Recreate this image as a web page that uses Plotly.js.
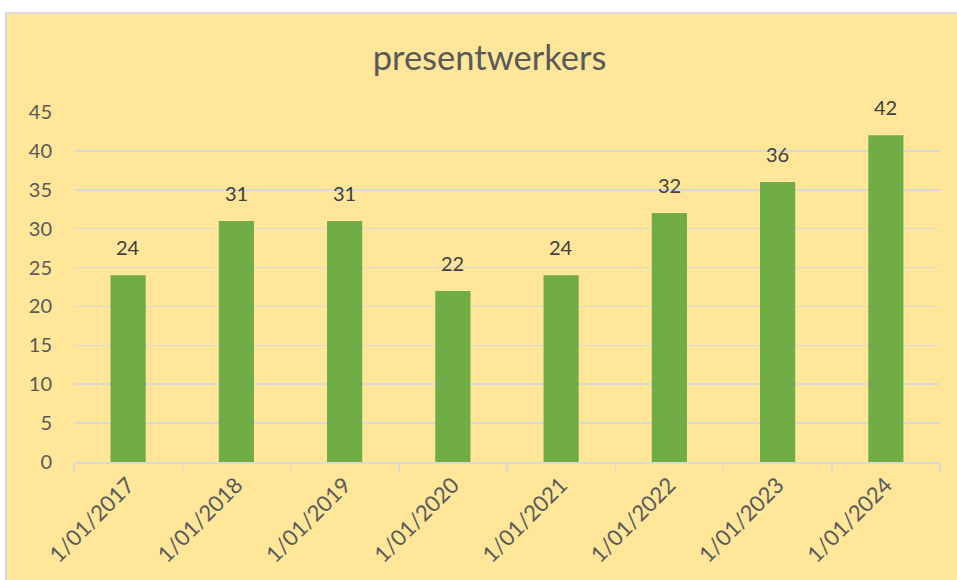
<!DOCTYPE html>
<html><head><meta charset="utf-8">
<script src="https://cdn.plot.ly/plotly-3.0.1.min.js"></script>
<style>
html,body{margin:0;padding:0;background:#fff;overflow:hidden;}
#wrap{position:absolute;left:5px;top:12px;width:952px;height:568px;border-left:2px solid #D9D9D9;border-top:2px solid #D9D9D9;box-sizing:border-box;background:#FFE699;}
#chart{width:950px;height:566px;}
</style></head>
<body><div id="wrap"><div id="chart"></div></div>
<script>
var categories = ["1/01/2017","1/01/2018","1/01/2019","1/01/2020","1/01/2021","1/01/2022","1/01/2023","1/01/2024"];
var values = [24,31,31,22,24,32,36,42];
var yTicks = [0,5,10,15,20,25,30,35,40,45];

var font = "Lato, 'Open Sans', sans-serif";
var trace = {
  type: 'bar', x: categories, y: values,
  marker: {color: '#70AD47'},
  hoverinfo: 'none'
};
var annotations = categories.map(function(c,i){
  return {x: c, y: values[i], xref:'x', yref:'y', text: String(values[i]), showarrow:false,
    yanchor:'bottom', yshift: 14, font:{family:font, size:20, color:'#404040'}};
});
var layout = {
  width: 950, height: 566,
  paper_bgcolor: '#FFE699', plot_bgcolor: '#FFE699',
  margin: {l:67, r:17, t:98, b:118},
  bargap: 0.675,
  title: {text:'presentwerkers', x:0.508, xanchor:'center', y:0.922, yanchor:'middle', yref:'container',
    font:{family:font, size:34.5, color:'#595959'}},
  xaxis: {type:'category', tickangle:-45, tickson:'boundaries', ticks:'outside', ticklen:8, tickwidth:1.5, tickcolor:'#D9D9D9',
    showline:true, linecolor:'#D9D9D9', linewidth:1.5, showgrid:false,
    tickfont:{family:font, size:22, color:'#595959'}},
  yaxis: {range:[0,45], tickvals:yTicks, showgrid:true, gridcolor:'#D9D9D9', gridwidth:1.5, zeroline:false,
    ticks:'', ticklabelstandoff:21, tickfont:{family:font, size:20, color:'#595959'}},
  annotations: annotations,
  showlegend:false
};
Plotly.newPlot('chart', [trace], layout, {displayModeBar:false, staticPlot:true});
</script></body></html>
